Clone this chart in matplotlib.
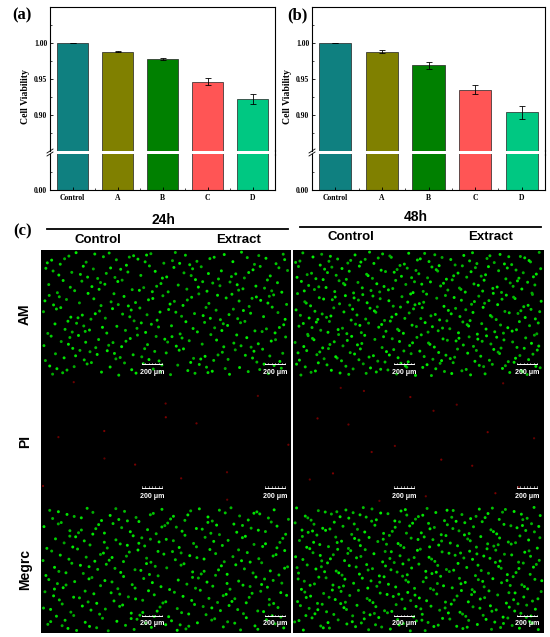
import numpy as np
import matplotlib
matplotlib.use('Agg')
import matplotlib.pyplot as plt
from matplotlib.patches import Rectangle

W, H = 550, 637
fig = plt.figure(figsize=(W / 100, H / 100), dpi=100)

serif = 'Liberation Serif'
sans = 'Liberation Sans'

# bar chart data
categories = ['Control', 'A', 'B', 'C', 'D']
viab_24h = [1.000, 0.988, 0.978, 0.946, 0.922]
err_24h = [0.0, 0.0008, 0.0018, 0.005, 0.007]
viab_48h = [1.000, 0.988, 0.969, 0.935, 0.904]
err_48h = [0.0, 0.0025, 0.0045, 0.006, 0.009]
bar_colors = ['#0f8080', '#808000', '#008000', '#ff5555', '#00c882']

# micrograph panel labels
times = ['24h', '48h']
groups = ['Control', 'Extract']
stains = ['AM', 'PI', 'Megrc']
cells_per_image = [[330, 430], [14, 20], [330, 430]]   # per stain: 24h half, 48h half


def px_axes(l, t, r, b):
    return fig.add_axes([l / W, 1 - b / H, (r - l) / W, (b - t) / H])


def bar_panel(left, right, vals, errs):
    top, brk1, brk2, bottom = 7, 151, 154, 190
    ax_up = px_axes(left, top, right, brk1)
    ax_lo = px_axes(left, brk2, right, bottom)
    x = np.arange(len(categories))
    ax_up.bar(x, vals, width=0.69, color=bar_colors, edgecolor='#222222', lw=0.5)
    ax_up.errorbar(x, vals, yerr=errs, fmt='none', ecolor='black', elinewidth=0.6,
                   capsize=2, capthick=0.6)
    ax_lo.bar(x, vals, width=0.69, color=bar_colors, edgecolor='#222222', lw=0.5)
    ax_up.set_ylim(0.85, 1.05)
    ax_lo.set_ylim(0, 0.05)
    for a in (ax_up, ax_lo):
        a.set_xlim(-0.5, len(categories) - 0.5)
        for s in a.spines.values():
            s.set_linewidth(0.8)
        a.tick_params(direction='in', length=2.5, width=0.6, labelsize=5.5, pad=2)
        a.tick_params(which='minor', direction='in', length=1.5, width=0.5)
        for lab in a.get_yticklabels():
            lab.set_fontfamily(serif)
            lab.set_fontweight('bold')
    ax_up.spines['bottom'].set_visible(False)
    ax_lo.spines['top'].set_visible(False)
    ax_up.set_xticks([])
    ax_up.set_yticks([0.90, 0.95, 1.00])
    ax_up.set_yticks([0.875, 0.925, 0.975, 1.025], minor=True)
    ax_up.set_yticklabels(['0.90', '0.95', '1.00'], fontfamily=serif, fontweight='bold')
    ax_lo.set_yticks([0.0])
    ax_lo.set_yticks([0.025], minor=True)
    ax_lo.set_yticklabels(['0.00'], fontfamily=serif, fontweight='bold')
    ax_lo.set_xticks(x)
    ax_lo.set_xticks(x[:-1] + 0.5, minor=True)
    ax_lo.set_xticklabels(categories, fontfamily=serif, fontweight='bold', fontsize=5.5)
    ax_lo.tick_params(axis='x', pad=3)
    return ax_up, ax_lo


bar_panel(50, 275, viab_24h, err_24h)
bar_panel(312, 545, viab_48h, err_48h)

# overlay in pixel coordinates for labels and micrographs
ov = fig.add_axes([0, 0, 1, 1])
ov.set_xlim(0, W)
ov.set_ylim(H, 0)
ov.axis('off')

# broken-axis marks and right spine continuation
for lx, rx in [(50, 275), (312, 545)]:
    for dy in (-1.5, 1.5):
        ov.plot([lx - 3, lx + 3], [152.5 + dy + 2, 152.5 + dy - 2], color='black', lw=0.6)
    ov.plot([rx, rx], [150, 155], color='black', lw=0.8)

ov.text(25, 97, 'Cell Viability', rotation=90, ha='center', va='center',
        fontsize=7, fontweight='bold', family=serif)
ov.text(287, 97, 'Cell Viability', rotation=90, ha='center', va='center',
        fontsize=7, fontweight='bold', family=serif)
ov.text(22, 15, '(a)', ha='center', va='center', fontsize=12, fontweight='bold', family=serif)
ov.text(297, 15, '(b)', ha='center', va='center', fontsize=12, fontweight='bold', family=serif)
ov.text(23, 231, '(c)', ha='center', va='center', fontsize=12, fontweight='bold', family=serif)

# headers
head = [(163, 220, 47, 288, 229, 98, 239, 240), (416, 217, 300, 541, 227, 351, 491, 237)]
for t, (tx, ty, x0, x1, ly, c1, c2, gy) in zip(times, head):
    ov.text(tx, ty, t, ha='center', va='center', fontsize=10, fontweight='bold', family=sans)
    ov.plot([x0, x1], [ly, ly], color='black', lw=1.3)
    ov.text(c1, gy, groups[0], ha='center', va='center', fontsize=9.5, fontweight='bold', family=sans)
    ov.text(c2, gy, groups[1], ha='center', va='center', fontsize=9.5, fontweight='bold', family=sans)

# micrographs
img_l, img_r, img_t, img_b, mid = 41, 544, 250, 633, 291.5
ov.add_patch(Rectangle((img_l, img_t), img_r - img_l, img_b - img_t, facecolor='black', zorder=1))
row_h = (img_b - img_t) / 3


def halton(n, base, start):
    out = np.zeros(n)
    for k in range(n):
        i, f, r = k + start, 1.0, 0.0
        while i > 0:
            f /= base
            r += f * (i % base)
            i //= base
        out[k] = r
    return out


bar_off = [(114, 123), (110, 119), (111, 118)]
for ri, stain in enumerate(stains):
    y0 = img_t + ri * row_h
    ov.text(25, y0 + row_h / 2, stain, rotation=90, ha='center', va='center',
            fontsize=10, fontweight='bold', family=sans)
    for hi, (hx0, hx1) in enumerate([(img_l, mid - 1), (mid + 1, img_r)]):
        n = cells_per_image[ri][hi]
        s0 = 50 + 997 * (ri * 2 + hi)
        xs = hx0 + 2 + halton(n, 2, s0) * (hx1 - hx0 - 4)
        ys = y0 + 2 + halton(n, 3, s0) * (row_h - 4)
        br = 0.5 + 0.5 * halton(n, 5, s0)
        if stain == 'PI':
            cols = np.column_stack([0.25 + 0.25 * br, np.zeros(n), np.zeros(n)])
            ov.scatter(xs, ys, s=2.5, c=cols, linewidths=0, zorder=2)
        else:
            cols = np.column_stack([np.zeros(n), 0.35 + 0.6 * br, np.zeros(n)])
            ov.scatter(xs, ys, s=4.5, c=cols, linewidths=0, zorder=2)
    # scale bars
    by, ty = bar_off[ri]
    for cx in (152, 275, 404, 527):
        ov.plot([cx - 10, cx + 10], [y0 + by, y0 + by], color='white', lw=0.7, zorder=3)
        for tk in np.linspace(cx - 10, cx + 10, 7):
            ov.plot([tk, tk], [y0 + by, y0 + by - 1.5], color='white', lw=0.4, zorder=3)
        ov.text(cx, y0 + ty, '200 μm', ha='center', va='center', fontsize=5,
                fontweight='bold', color='white', family=sans, zorder=3)

ov.plot([mid, mid], [img_t, img_b], color='white', lw=1.4, zorder=4)

fig.savefig('out.png', dpi=100)
